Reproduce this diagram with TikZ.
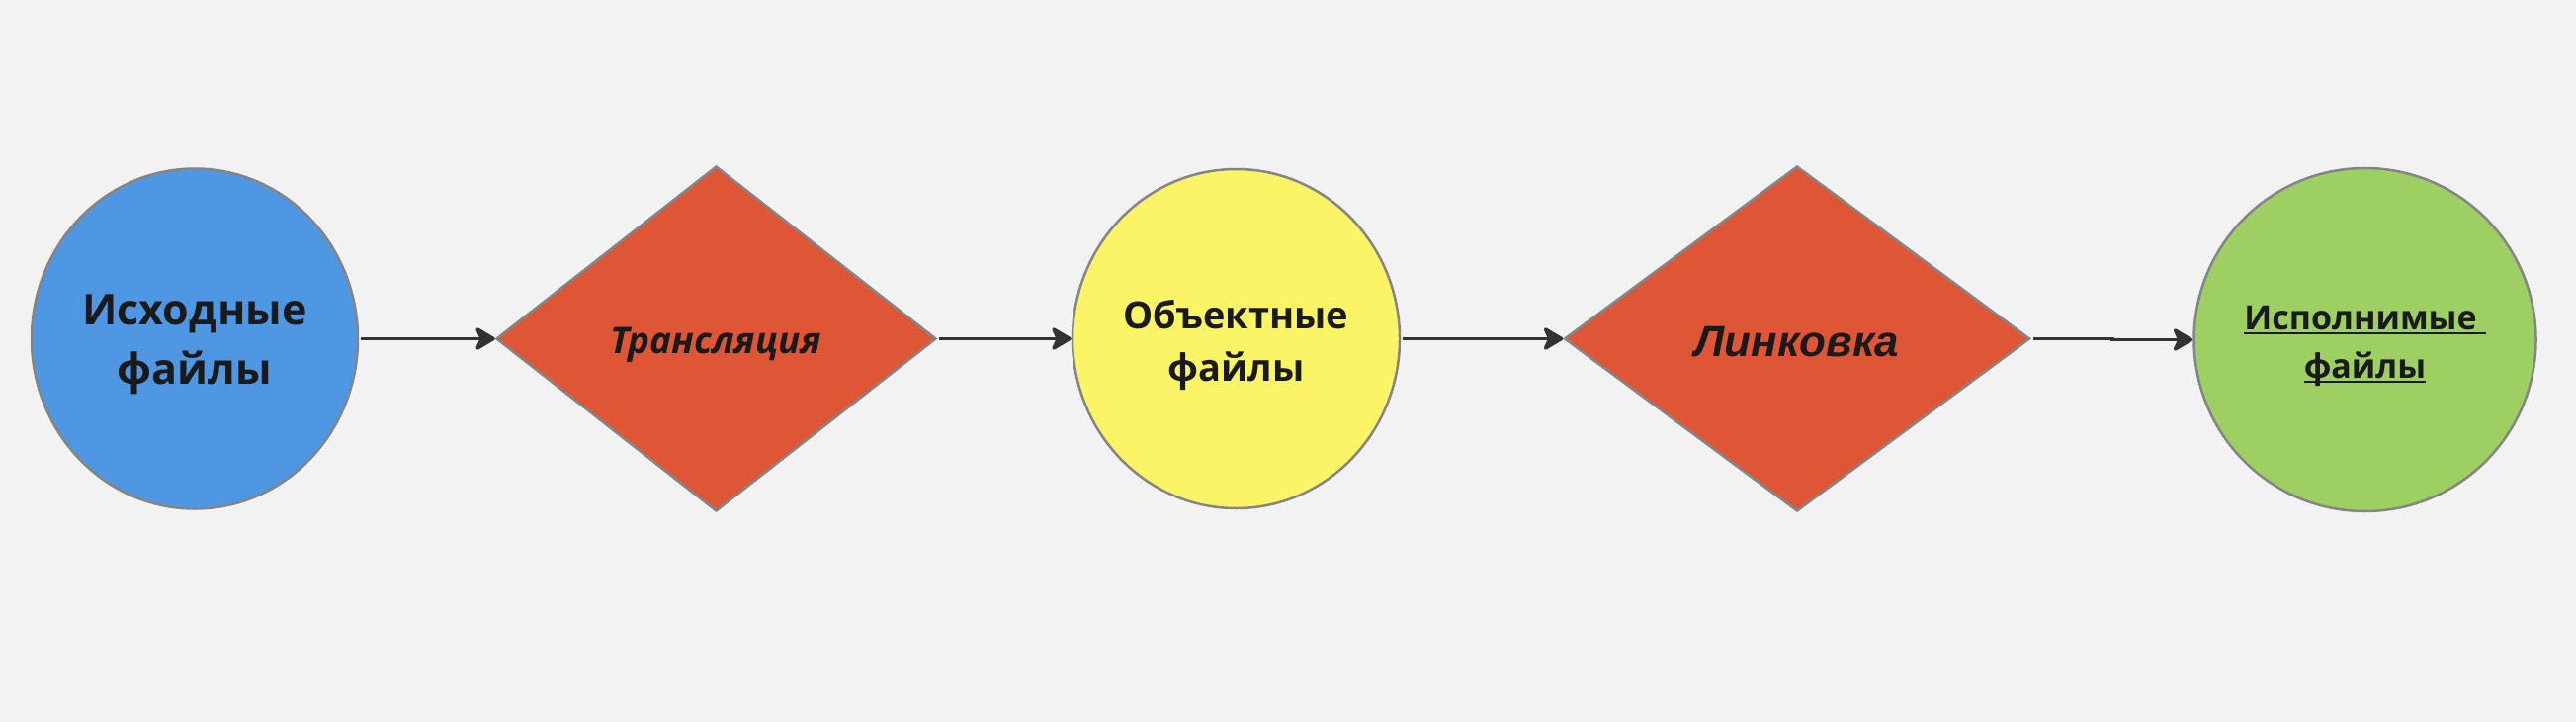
\documentclass[tikz,border=0pt]{standalone}
\usepackage{fontspec}
\setmainfont{Open Sans}
\newfontfamily\arialf{Liberation Sans}
\usetikzlibrary{shapes.geometric,arrows.meta}
\definecolor{bg}{HTML}{F2F2F2}
\definecolor{cblue}{HTML}{4F97E3}
\definecolor{cred}{HTML}{DF5637}
\definecolor{cyellow}{HTML}{FBF467}
\definecolor{cgreen}{HTML}{9DCF63}
\definecolor{outl}{HTML}{858585}
\definecolor{ink}{HTML}{1A1A1A}
\definecolor{arr}{HTML}{333333}
\newsavebox\ulsave
\newcommand\ulword[1]{\sbox\ulsave{#1}\rlap{\rule[-5pt]{\wd\ulsave}{2.5pt}}\usebox\ulsave}
\begin{document}
\begin{tikzpicture}[x=1pt,y=-1pt,
  shapebase/.style={draw=outl, line width=2.5pt, inner sep=0pt},
  oval/.style={shapebase, ellipse},
  rhomb/.style={shapebase, diamond},
  txt/.style={text=ink, align=center, inner sep=0pt},
  conn/.style={draw=arr, line width=3.5pt, shorten <=2pt, -{Stealth[length=23pt,width=27pt,inset=6pt,round]}}]
\fill[bg] (0,0) rectangle (2606,730);
\useasboundingbox (0,0) rectangle (2606,730);
\node[oval, fill=cblue, minimum width=330pt, minimum height=344pt,
  label={[txt, yshift=-6pt, font=\bfseries\fontsize{43}{60}\selectfont]center:{Исходные\\файлы}}] (c1) at (197,342.5) {};
\node[rhomb, fill=cred, minimum width=445pt, minimum height=349pt,
  label={[txt, yshift=-6pt, font=\bfseries\itshape\fontsize{37}{44}\selectfont]center:{Трансляция}}] (d1) at (724.5,342.5) {};
\node[oval, fill=cyellow, minimum width=331pt, minimum height=343pt,
  label={[txt, yshift=-6pt, font=\bfseries\fontsize{38}{53}\selectfont]center:{Объектные\\файлы}}] (c2) at (1250.5,342.5) {};
\node[rhomb, fill=cred, minimum width=471pt, minimum height=349pt,
  label={[txt, yshift=-3pt, font=\arialf\bfseries\itshape\fontsize{44}{50}\selectfont]center:{Линковка}}] (d2) at (1818,342.5) {};
\node[oval, fill=cgreen, minimum width=346pt, minimum height=347pt,
  label={[txt, yshift=-6pt, font=\bfseries\fontsize{34}{49}\selectfont]center:{\ulword{Исполнимые\ }\\\ulword{файлы}}}] (c3) at (2392.5,343.5) {};
\draw[conn] (c1.east) -- (d1.west);
\draw[conn] (d1.east) -- (c2.west);
\draw[conn] (c2.east) -- (d2.west);
\draw[conn] (d2.east) -- ++(82,0) |- (c3.west);
\end{tikzpicture}
\end{document}
